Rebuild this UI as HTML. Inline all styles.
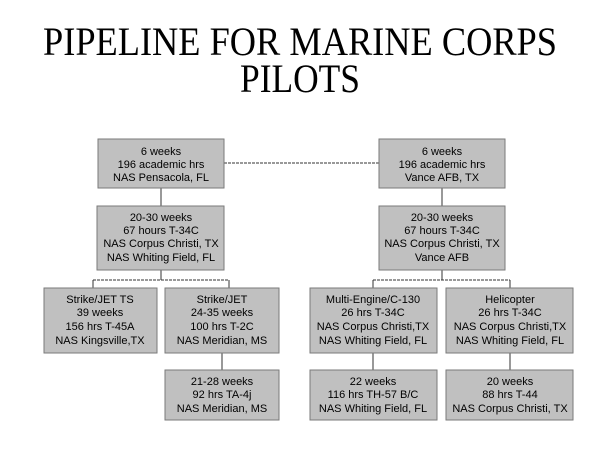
<!DOCTYPE html>
<html><head><meta charset="utf-8"><style>
html,body{margin:0;padding:0;background:#fff;}
svg{display:block;}
.b{font-family:"Liberation Sans",sans-serif;font-size:11px;fill:#000;text-anchor:middle;}
rect{fill:#c0c0c0;stroke:#7a7a7a;stroke-width:1;}
.l{stroke:#333;stroke-width:1;fill:none;stroke-dasharray:3,1;}
.s{stroke:#333;stroke-width:1;fill:none;}
</style></head><body>
<svg width="600" height="450" xmlns="http://www.w3.org/2000/svg">
<text font-family="'Liberation Serif','Times New Roman',serif" font-size="40" x="300" y="55" text-anchor="middle" textLength="514" lengthAdjust="spacingAndGlyphs">PIPELINE FOR MARINE CORPS</text>
<text font-family="'Liberation Serif','Times New Roman',serif" font-size="40" x="300" y="92" text-anchor="middle" textLength="120" lengthAdjust="spacingAndGlyphs">PILOTS</text>

<path class="l" d="M224 163H379"/>
<path class="s" d="M161 188V206M442 188V206"/>
<path class="s" d="M161 270V280M442 270V280"/>
<path class="l" d="M93 280H229M373 280H510"/>
<path class="s" d="M93 280V288M229 280V288M373 280V288M510 280V288"/>
<path class="s" d="M222 353V370M373 353V370M510 353V370"/>

<rect x="98" y="139" width="126" height="49"/>
<text class="b" x="161" y="155">6 weeks</text>
<text class="b" x="161" y="168">196 academic hrs</text>
<text class="b" x="161" y="181">NAS Pensacola, FL</text>

<rect x="379" y="139" width="126" height="49"/>
<text class="b" x="442" y="155">6 weeks</text>
<text class="b" x="442" y="168">196 academic hrs</text>
<text class="b" x="442" y="181">Vance AFB, TX</text>

<rect x="97" y="206" width="127" height="64"/>
<text class="b" x="161" y="221">20-30 weeks</text>
<text class="b" x="161" y="234">67 hours T-34C</text>
<text class="b" x="161" y="247">NAS Corpus Christi, TX</text>
<text class="b" x="161" y="261">NAS Whiting Field, FL</text>

<rect x="379" y="206" width="126" height="64"/>
<text class="b" x="442" y="221">20-30 weeks</text>
<text class="b" x="442" y="234">67 hours T-34C</text>
<text class="b" x="442" y="247">NAS Corpus Christi, TX</text>
<text class="b" x="442" y="261">Vance AFB</text>

<rect x="44" y="288" width="113" height="65"/>
<text class="b" x="100" y="303">Strike/JET TS</text>
<text class="b" x="100" y="316">39 weeks</text>
<text class="b" x="100" y="330">156 hrs T-45A</text>
<text class="b" x="100" y="344">NAS Kingsville,TX</text>

<rect x="165" y="288" width="114" height="65"/>
<text class="b" x="222" y="303">Strike/JET</text>
<text class="b" x="222" y="316">24-35 weeks</text>
<text class="b" x="222" y="330">100 hrs T-2C</text>
<text class="b" x="222" y="344">NAS Meridian, MS</text>

<rect x="310" y="288" width="127" height="65"/>
<text class="b" x="373" y="303">Multi-Engine/C-130</text>
<text class="b" x="373" y="316">26 hrs T-34C</text>
<text class="b" x="373" y="330">NAS Corpus Christi,TX</text>
<text class="b" x="373" y="344">NAS Whiting Field, FL</text>

<rect x="446" y="288" width="127" height="65"/>
<text class="b" x="510" y="303">Helicopter</text>
<text class="b" x="510" y="316">26 hrs T-34C</text>
<text class="b" x="510" y="330">NAS Corpus Christi,TX</text>
<text class="b" x="510" y="344">NAS Whiting Field, FL</text>

<rect x="165" y="370" width="114" height="50"/>
<text class="b" x="222" y="385">21-28 weeks</text>
<text class="b" x="222" y="398">92 hrs TA-4j</text>
<text class="b" x="222" y="412">NAS Meridian, MS</text>

<rect x="310" y="370" width="127" height="50"/>
<text class="b" x="373" y="385">22 weeks</text>
<text class="b" x="373" y="398">116 hrs TH-57 B/C</text>
<text class="b" x="373" y="412">NAS Whiting Field, FL</text>

<rect x="446" y="370" width="127" height="50"/>
<text class="b" x="510" y="385">20 weeks</text>
<text class="b" x="510" y="398">88 hrs T-44</text>
<text class="b" x="510" y="412">NAS Corpus Christi, TX</text>
</svg>
</body></html>
